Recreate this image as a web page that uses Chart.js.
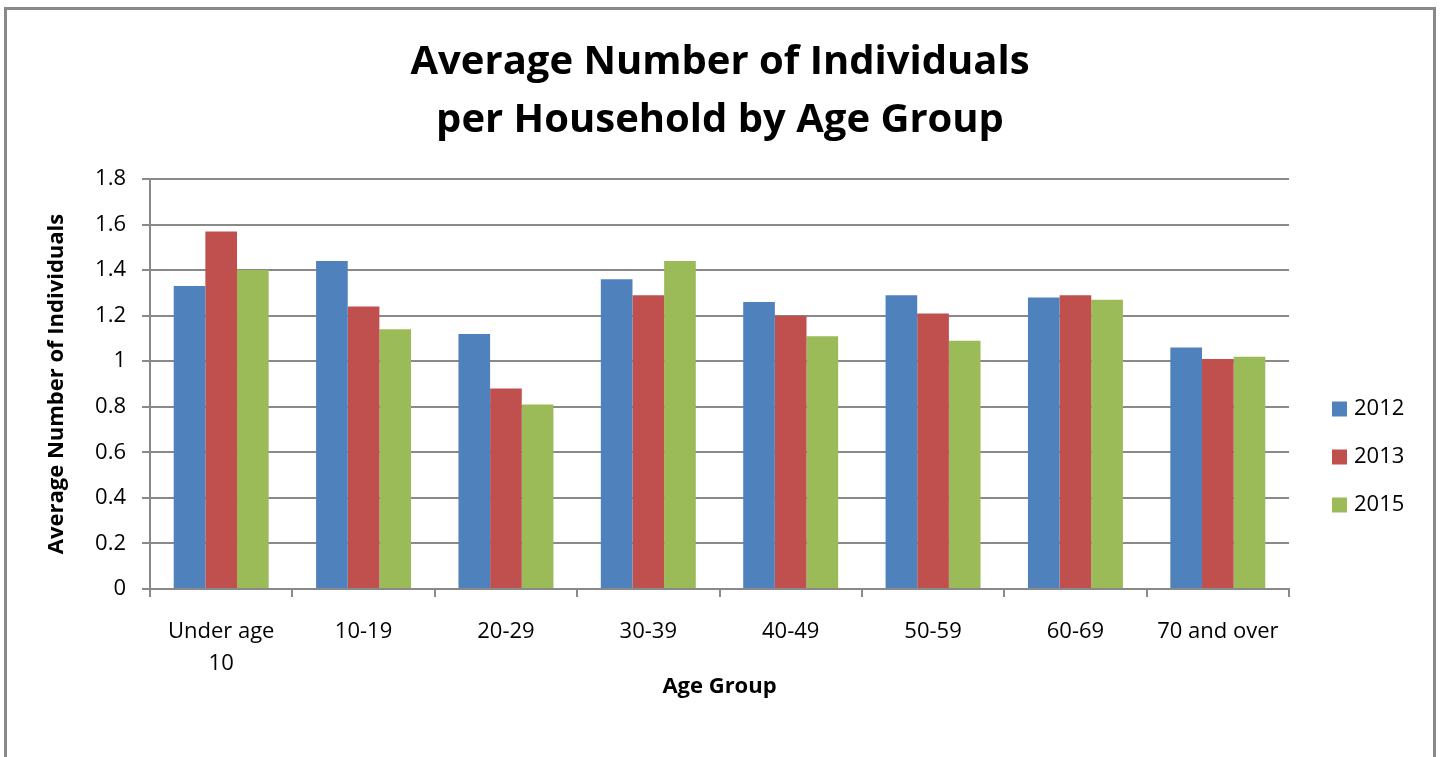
<!DOCTYPE html>
<html>
<head>
<meta charset="utf-8">
<title>Average Number of Individuals per Household by Age Group</title>
<script src="https://cdn.jsdelivr.net/npm/chart.js@4.4.1/dist/chart.umd.min.js"></script>
<style>
  html, body { margin: 0; padding: 0; background: #fff; }
  #wrap { position: relative; width: 1440px; height: 757px; }
</style>
</head>
<body>
<div id="wrap"><canvas id="householdChart"></canvas></div>
<script>
// categories on the x axis
const ageGroups = [['Under age', '10'], '10-19', '20-29', '30-39', '40-49', '50-59', '60-69', '70 and over'];
// survey years, one bar series each
const surveyYears = ['2012', '2013', '2015'];
const avg2012 = [1.33, 1.44, 1.12, 1.36, 1.26, 1.29, 1.28, 1.06];
const avg2013 = [1.57, 1.24, 0.88, 1.29, 1.20, 1.21, 1.29, 1.01];
const avg2015 = [1.40, 1.14, 0.81, 1.44, 1.11, 1.09, 1.27, 1.02];
const yTickLabels = ['0', '0.2', '0.4', '0.6', '0.8', '1', '1.2', '1.4', '1.6', '1.8'];
const seriesColors = ['#4F81BD', '#C0504D', '#9BBB59'];

const FONT = "'Open Sans', sans-serif";
const gridGrey = '#898989';

// white background plus the grey frame round the chart
const framePlugin = {
    id: 'frame',
    beforeDraw(chart) {
        const ctx = chart.ctx;
        ctx.save();
        ctx.fillStyle = '#fff';
        ctx.fillRect(0, 0, chart.width, chart.height);
        ctx.strokeStyle = '#8a8a8a';
        ctx.lineWidth = 3;
        ctx.strokeRect(5.5, 8.5, chart.width - 11, chart.height + 20);
        ctx.restore();
    }
};

// legend at the right, square then the year
const sideLegend = {
    id: 'sideLegend',
    afterDraw(chart) {
        const ctx = chart.ctx;
        const x = chart.chartArea.right + 43;
        let y = 409;
        ctx.save();
        ctx.font = '22px ' + FONT;
        ctx.textBaseline = 'middle';
        ctx.textAlign = 'left';
        chart.data.datasets.forEach(ds => {
            ctx.fillStyle = ds.backgroundColor;
            ctx.fillRect(x, y - 7.5, 15, 15);
            ctx.fillStyle = '#000';
            ctx.fillText(ds.label, x + 22, y);
            y += 48;
        });
        ctx.restore();
    }
};

const seriesData = [avg2012, avg2013, avg2015];

const ctx = document.getElementById('householdChart').getContext('2d');
const householdChart = new Chart(ctx, {
    type: 'bar',
    data: {
        labels: ageGroups,
        datasets: surveyYears.map((yr, i) => ({
            label: yr,
            data: seriesData[i],
            backgroundColor: seriesColors[i],
            borderWidth: 0,
            categoryPercentage: 0.667,
            barPercentage: 1.0
        }))
    },
    options: {
        responsive: true,
        maintainAspectRatio: false,
        devicePixelRatio: 1,
        animation: false,
        layout: { padding: 0 },
        plugins: {
            legend: { display: false },
            tooltip: { enabled: false },
            title: {
                display: true,
                text: ['Average Number of Individuals', 'per Household by Age Group'],
                color: '#000',
                font: { family: FONT, size: 40, weight: 'bold', lineHeight: 1.45 },
                padding: { top: 34, bottom: 29 }
            }
        },
        scales: {
            x: {
                ticks: {
                    color: '#000',
                    font: { family: FONT, size: 22, lineHeight: 32 / 22 },
                    padding: 19,
                    maxRotation: 0,
                    autoSkip: false
                },
                grid: { drawOnChartArea: false, offset: true, tickLength: 8, color: gridGrey, lineWidth: 2 },
                border: { color: gridGrey, width: 2 },
                title: {
                    display: true,
                    text: 'Age Group',
                    color: '#000',
                    font: { family: FONT, size: 22, weight: 'bold', lineHeight: 1.2 },
                    padding: { top: 0, bottom: 57 }
                },
                afterFit(scale) { scale.height = 168; }
            },
            y: {
                min: 0,
                max: 1.8,
                ticks: {
                    stepSize: 0.2,
                    color: '#000',
                    font: { family: FONT, size: 22 },
                    padding: 16,
                    callback: (v, i) => yTickLabels[i]
                },
                grid: { color: gridGrey, lineWidth: 2, tickLength: 8 },
                border: { color: gridGrey, width: 2 },
                title: {
                    display: true,
                    text: 'Average Number of Individuals',
                    color: '#000',
                    font: { family: FONT, size: 22, weight: 'bold', lineHeight: 1.2 },
                    padding: { top: 44, bottom: 0 }
                },
                afterFit(scale) { scale.width = 150; }
            },
            // empty right-hand axis that only keeps room for the legend
            legendSpace: {
                type: 'linear',
                position: 'right',
                display: true,
                ticks: { display: false },
                grid: { display: false },
                border: { display: false },
                afterFit(scale) { scale.width = 151; }
            }
        }
    },
    plugins: [framePlugin, sideLegend]
});
</script>
</body>
</html>
